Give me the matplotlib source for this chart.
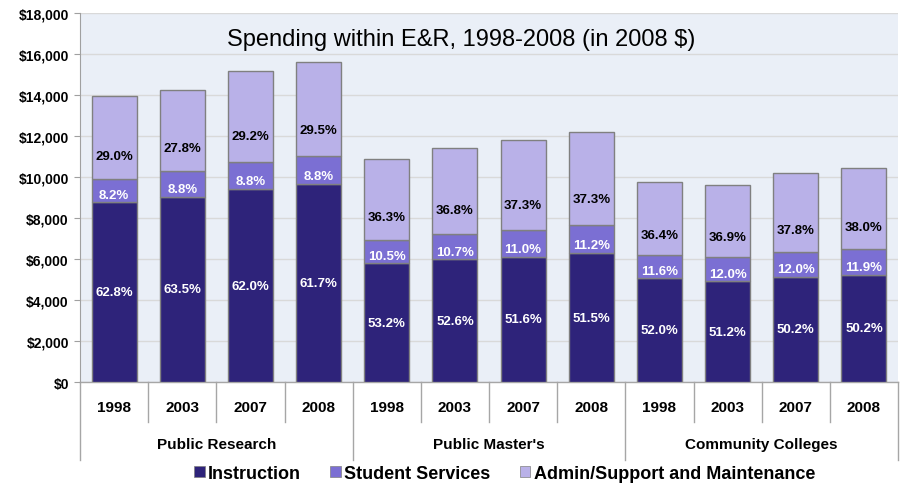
import matplotlib
matplotlib.use("Agg")
import matplotlib.pyplot as plt
from matplotlib.patches import Patch
import numpy as np

years = ["1998", "2003", "2007", "2008"] * 3
groups = ["Public Research", "Public Master's", "Community Colleges"]
totals = [13950, 14230, 15170, 15620, 10880, 11400, 11830, 12200, 9740, 9620, 10220, 10410]
instr_pct = [62.8, 63.5, 62.0, 61.7, 53.2, 52.6, 51.6, 51.5, 52.0, 51.2, 50.2, 50.2]
stud_pct = [8.2, 8.8, 8.8, 8.8, 10.5, 10.7, 11.0, 11.2, 11.6, 12.0, 12.0, 11.9]
admin_pct = [29.0, 27.8, 29.2, 29.5, 36.3, 36.8, 37.3, 37.3, 36.4, 36.9, 37.8, 38.0]
series = ["Instruction", "Student Services", "Admin/Support and Maintenance"]
colors = ["#2E237A", "#7B6FD3", "#B9B1E8"]
label_colors = ["white", "white", "black"]
label_frac = [0.5, 0.3, 0.28]   # where the label sits inside each segment, from its base

narrow = ["Liberation Sans Narrow", "Liberation Sans", "DejaVu Sans"]
plt.rcParams["font.family"] = ["Liberation Sans", "DejaVu Sans"]

fig = plt.figure(figsize=(9.01, 4.85), dpi=100)
ax = fig.add_axes([0.0888, 0.2103, 0.9079, 0.7608])
ax.set_facecolor("#EAEFF7")

x = np.arange(len(totals))
tot = np.array(totals, dtype=float)
bottom = np.zeros(len(totals))
for pct, col, lc, fr in zip([instr_pct, stud_pct, admin_pct], colors, label_colors, label_frac):
    vals = tot * np.array(pct) / 100.0
    ax.bar(x, vals, bottom=bottom, width=0.66, color=col, edgecolor="#808080",
           linewidth=1, zorder=3)
    for xi, b, v, p in zip(x, bottom, vals, pct):
        ax.text(xi, b + v * fr, f"{p:.1f}%", ha="center", va="center", color=lc,
                fontsize=9.5, fontweight="bold", zorder=4)
    bottom += vals

ax.set_xlim(-0.5, len(totals) - 0.5)
ax.set_ylim(0, 18000)
ax.set_yticks(np.arange(0, 18001, 2000))
ax.set_yticklabels([f"${v:,.0f}" for v in np.arange(0, 18001, 2000)],
                   family=narrow, fontweight="bold", fontsize=10)
ax.yaxis.grid(True, color="#D9D9D9", linewidth=1, zorder=0)
ax.set_xticks([])
for s in ["top", "right", "bottom"]:
    ax.spines[s].set_visible(False)
ax.spines["left"].set_color("#A0A0A0")
ax.tick_params(axis="y", length=4, color="#A0A0A0", pad=4)

ax.text(0.466, 0.93, "Spending within E&R, 1998-2008 (in 2008 $)", transform=ax.transAxes,
        ha="center", va="center", fontsize=17, color="black", family=narrow)

# category table below the axis
tr = ax.get_xaxis_transform()
line_kw = dict(color="#A6A6A6", linewidth=1, clip_on=False, transform=tr)
ax.plot([-0.5, len(totals) - 0.5], [0, 0], **line_kw)
for i in range(len(totals) + 1):
    xe = i - 0.5
    y_end = -0.212 if i % 4 == 0 else -0.108
    ax.plot([xe, xe], [0, y_end], **line_kw)
for xi, yr in zip(x, years):
    ax.text(xi, -0.068, yr, transform=tr, ha="center", va="center",
            fontsize=11, fontweight="bold", family=narrow)
for gi, g in enumerate(groups):
    ax.text(gi * 4 + 1.5, -0.168, g, transform=tr, ha="center", va="center",
            fontsize=11, fontweight="bold", family=narrow)

handles = [Patch(facecolor=c, edgecolor="#808080", linewidth=0.5) for c in colors]
fig.legend(handles, series, loc="center", bbox_to_anchor=(0.56, 0.022), ncol=3,
           frameon=False, handlelength=0.6, handleheight=0.6, handletextpad=0.2,
           columnspacing=1.6, prop={"family": narrow, "weight": "bold", "size": 13})

fig.savefig("out.png", dpi=100)
